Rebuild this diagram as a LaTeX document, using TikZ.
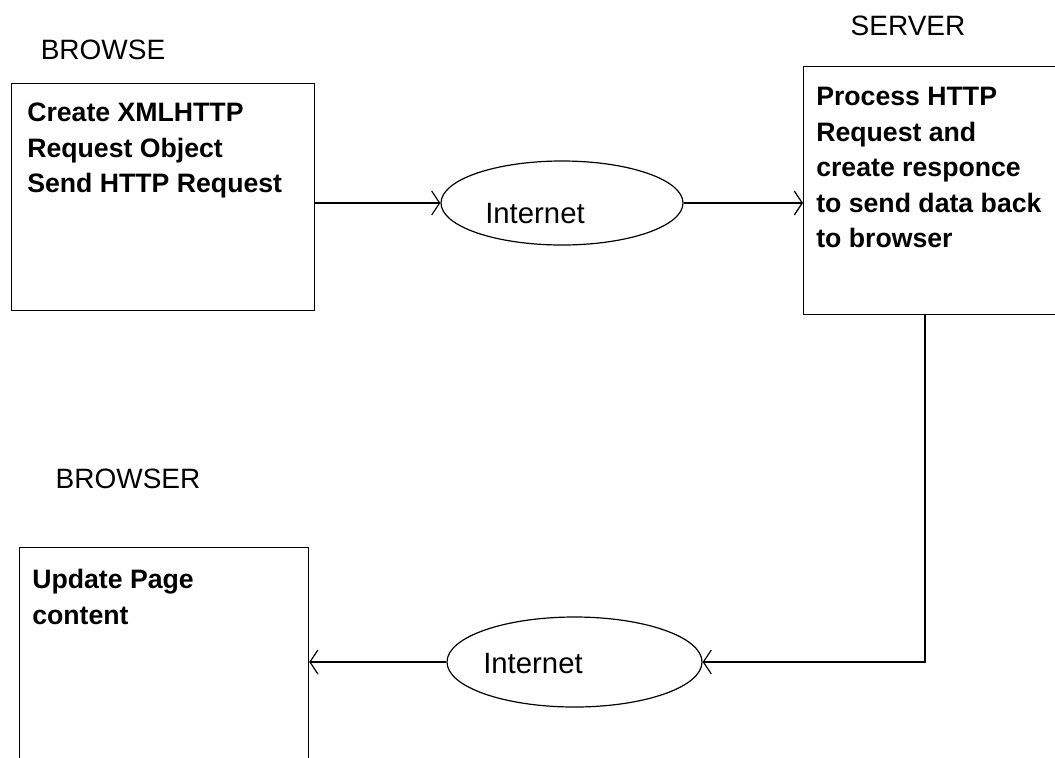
\documentclass[tikz,border=0pt]{standalone}
\usepackage{fontspec}
\setmainfont{Liberation Sans}
\usepackage{tikz}
\usetikzlibrary{arrows.meta,positioning,shapes.geometric}
\newdimen\pxl \pxl=0.75pt

\begin{document}
\begin{tikzpicture}[
  x=0.75pt, y=-0.75pt,
  box/.style={draw, line width=0.9pt, anchor=north west, inner sep=0pt},
  boxtext/.style={anchor=north west, inner sep=0pt, align=left, font=\fontsize{20}{26.6}\selectfont\bfseries},
  title/.style={anchor=base, inner sep=0pt, font=\fontsize{21}{25}\selectfont},
  net/.style={draw, ellipse, line width=0.9pt, inner sep=0pt},
  nettext/.style={anchor=base west, inner sep=0pt, font=\fontsize{22}{26}\selectfont},
  arrow/.style={-{Straight Barb[length=6pt,width=18pt]}, line width=0.9pt}
]
\clip (0,0) rectangle (1055,757);

% titles
\node[title] (t1) at (103,59) {BROWSE};
\node[title] (t2) at (908,35) {SERVER};
\node[title] (t3) at (128,488) {BROWSER};

% boxes
\node[box, minimum width=303\pxl, minimum height=227\pxl] (a) at (11,83) {};
\node[boxtext] (at) at (27,103) {Create XMLHTTP\\Request Object\\Send HTTP Request};
\node[box, minimum width=300\pxl, minimum height=248\pxl] (s) at (803,66) {};
\node[boxtext] (st) at (816,87) {Process HTTP\\Request and\\create responce\\to send data back\\to browser};
\node[box, minimum width=289\pxl, minimum height=250\pxl] (c) at (19,547) {};
\node[boxtext] (ct) at (32,569) {Update Page\\content};

% internet
\node[net, minimum width=242\pxl, minimum height=84\pxl] (n1) at (562,203) {};
\node[nettext] (n1t) at (485,223) {Internet};
\node[net, minimum width=255\pxl, minimum height=90\pxl] (n2) at (574.5,662) {};
\node[nettext] (n2t) at (483,673) {Internet};

% connectors
\coordinate (bend) at (925,662);
\draw[arrow] (n1.west -| a.east) -- (n1.west);
\draw[arrow] (n1.east) -- (n1.east -| s.west);
\draw[arrow] (bend |- s.south) -- (bend) -- (n2.east);
\draw[arrow] (n2.west) -- (n2.west -| c.east);
\end{tikzpicture}
\end{document}
